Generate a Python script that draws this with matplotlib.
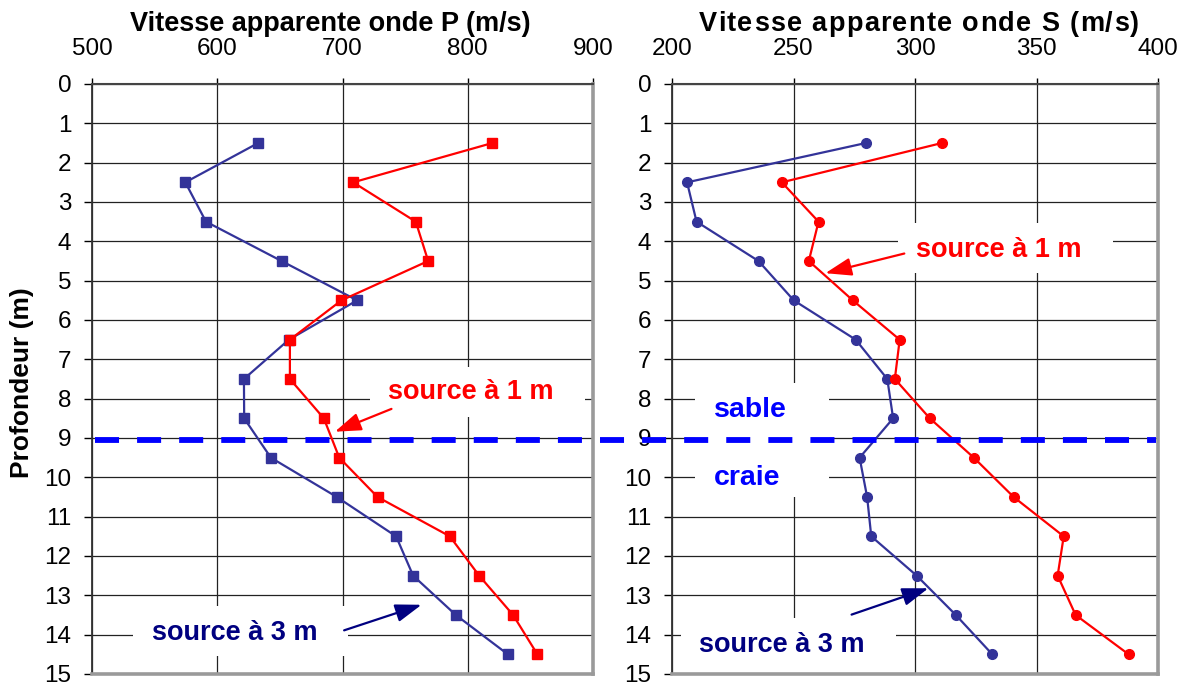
import matplotlib
matplotlib.use("Agg")
import matplotlib.pyplot as plt
from matplotlib.font_manager import FontProperties
from matplotlib.lines import Line2D
from matplotlib.patches import Rectangle

plt.rcParams['font.family'] = ['Liberation Sans', 'DejaVu Sans']
plt.rcParams['lines.scale_dashes'] = False

# ---- data -------------------------------------------------------------
depth = [1.5, 2.5, 3.5, 4.5, 5.5, 6.5, 7.5, 8.5, 9.5, 10.5, 11.5, 12.5, 13.5, 14.5]

vp_source_1m = [819.7, 708.5, 758.5, 768.4, 699.2, 658.0, 658.0, 685.1, 697.4,
                728.0, 785.7, 809.1, 836.2, 855.6]
vp_source_3m = [632.7, 574.5, 591.0, 651.3, 711.7, 657.2, 621.3, 621.5, 642.8,
                695.5, 742.8, 756.4, 790.5, 832.0]

vs_source_1m = [311.1, 245.2, 260.3, 256.3, 274.4, 293.7, 291.7, 306.1, 324.2,
                340.6, 361.2, 358.7, 366.1, 387.9]
vs_source_3m = [279.8, 206.2, 210.1, 235.6, 250.1, 275.6, 288.6, 291.0, 277.2,
                280.3, 282.0, 300.7, 316.8, 331.8]

vp_ticks = [500, 600, 700, 800, 900]
vs_ticks = [200, 250, 300, 350, 400]
depth_ticks = list(range(0, 16))
interface_depth = 9.05

title_p = "Vitesse apparente onde P (m/s)"
title_s = "Vitesse apparente onde S (m/s)"
ylabel = "Profondeur (m)"
label_1m = "source à 1 m"
label_3m = "source à 3 m"
layer_top = "sable"
layer_bottom = "craie"

# ---- style ------------------------------------------------------------
RED = "#FF0000"
BLUE_LINE = "#333399"
NAVY = "#000080"
LAYER_BLUE = "#0000FF"
W, H = 1189, 682

fig = plt.figure(figsize=(W / 100, H / 100), dpi=100)


def fx(px):
    return px / W


def fy(py):
    return 1 - py / H


ax_p = fig.add_axes([fx(92), fy(674), fx(593) - fx(92), fy(84) - fy(674)])
ax_s = fig.add_axes([fx(672), fy(674), fx(1158) - fx(672), fy(84) - fy(674)])


def style_axis(ax, xticks):
    ax.set_xlim(xticks[0], xticks[-1])
    ax.set_ylim(15, 0)
    ax.set_xticks(xticks)
    ax.set_yticks(depth_ticks)
    ax.xaxis.tick_top()
    ax.tick_params(axis='x', direction='out', length=4, width=1, pad=13.4,
                   labelsize=17.5, colors='black')
    ax.tick_params(axis='y', direction='out', length=6, width=1, pad=9,
                   labelsize=17.5, colors='black')
    ax.set_axisbelow(True)
    ax.grid(True, color='#222222', linewidth=0.9)
    ax.spines['left'].set_color('#333333')
    ax.spines['left'].set_linewidth(1.3)
    ax.spines['top'].set_color('#444444')
    ax.spines['top'].set_linewidth(1.5)
    for side in ('right', 'bottom'):
        ax.spines[side].set_color('#9a9a9a')
        ax.spines[side].set_linewidth(2.6)


style_axis(ax_p, vp_ticks)
style_axis(ax_s, vs_ticks)

# P-wave profiles (square markers)
ax_p.plot(vp_source_3m, depth, color=BLUE_LINE, lw=1.6, marker='s', ms=6.5,
          zorder=3, clip_on=False)
ax_p.plot(vp_source_1m, depth, color=RED, lw=1.6, marker='s', ms=6.5,
          zorder=3, clip_on=False)

# S-wave profiles (round markers)
ax_s.plot(vs_source_3m, depth, color=BLUE_LINE, lw=1.6, marker='o', ms=7,
          zorder=3, clip_on=False)
ax_s.plot(vs_source_1m, depth, color=RED, lw=1.6, marker='o', ms=7,
          zorder=3, clip_on=False)


def white_box(ax, x0, x1, y0, y1):
    ax.add_patch(Rectangle((x0, y0), x1 - x0, y1 - y0, facecolor='white',
                           edgecolor='none', zorder=1.5, clip_on=True))


def arrow(ax, tail, tip, color):
    ax.annotate('', xy=tip, xytext=tail,
                arrowprops=dict(arrowstyle='-|>,head_length=1.6,head_width=0.55',
                                mutation_scale=10, color=color, lw=1.6,
                                shrinkA=0, shrinkB=0), zorder=4)


# annotations on the P panel
white_box(ax_p, 721.8, 893.4, 7.19, 8.46)
ax_p.text(802.3, 7.84, label_1m, color=RED, fontsize=19.5, fontweight='bold',
          ha='center', va='center', zorder=4)
arrow(ax_p, (739.1, 8.26), (693.9, 8.84), RED)

white_box(ax_p, 533.0, 704.5, 13.27, 14.54)
ax_p.text(613.8, 13.95, label_3m, color=NAVY, fontsize=19.5, fontweight='bold',
          ha='center', va='center', zorder=4)
arrow(ax_p, (701.3, 13.89), (763.1, 13.24), NAVY)

# annotations on the S panel
white_box(ax_s, 292.8, 381.4, 3.53, 4.80)
ax_s.text(334.3, 4.22, label_1m, color=RED, fontsize=19.5, fontweight='bold',
          ha='center', va='center', zorder=4)
arrow(ax_s, (295.6, 4.31), (263.1, 4.81), RED)

white_box(ax_s, 209.3, 264.5, 7.60, 10.50)
ax_s.text(232.4, 8.30, layer_top, color=LAYER_BLUE, fontsize=20.5,
          fontweight='bold', ha='center', va='center', zorder=4)
ax_s.text(231.1, 10.02, layer_bottom, color=LAYER_BLUE, fontsize=20.5,
          fontweight='bold', ha='center', va='center', zorder=4)

white_box(ax_s, 203.9, 292.3, 13.58, 15.0)
ax_s.text(245.2, 14.26, label_3m, color=NAVY, fontsize=19.5, fontweight='bold',
          ha='center', va='center', zorder=4)
arrow(ax_s, (273.9, 13.49), (305.5, 12.82), NAVY)

# sand / chalk interface across both panels
y_int = fig.transFigure.inverted().transform(
    ax_p.transData.transform((vp_ticks[0], interface_depth)))[1]
fig.add_artist(Line2D([fx(95), fx(1156)], [y_int, y_int], transform=fig.transFigure,
                      color=LAYER_BLUE, lw=4.2, dashes=(17.3, 13.0),
                      dash_capstyle='butt', zorder=10))

# axis titles
fig.text(fx(330), fy(31), title_p, fontsize=19.5, fontweight='bold',
         ha='center', va='baseline')

renderer = fig.canvas.get_renderer()
fp = FontProperties(family=['Liberation Sans', 'DejaVu Sans'], weight='bold',
                    size=19.5)


def char_width(c):
    if c == ' ':
        return (renderer.get_text_width_height_descent('a a', fp, ismath=False)[0]
                - 2 * renderer.get_text_width_height_descent('a', fp, ismath=False)[0])
    return renderer.get_text_width_height_descent(c, fp, ismath=False)[0]


extra = 1.35
widths = [char_width(c) for c in title_s]
total = sum(widths) + extra * (len(title_s) - 1)
x = 919 - total / 2
for c, w in zip(title_s, widths):
    fig.text(fx(x), fy(31), c, fontproperties=fp, ha='left', va='baseline')
    x += w + extra

fig.text(fx(22), fy(383), ylabel, fontsize=19, fontweight='bold',
         rotation=90, ha='center', va='center')

fig.savefig("out.png", dpi=100)
